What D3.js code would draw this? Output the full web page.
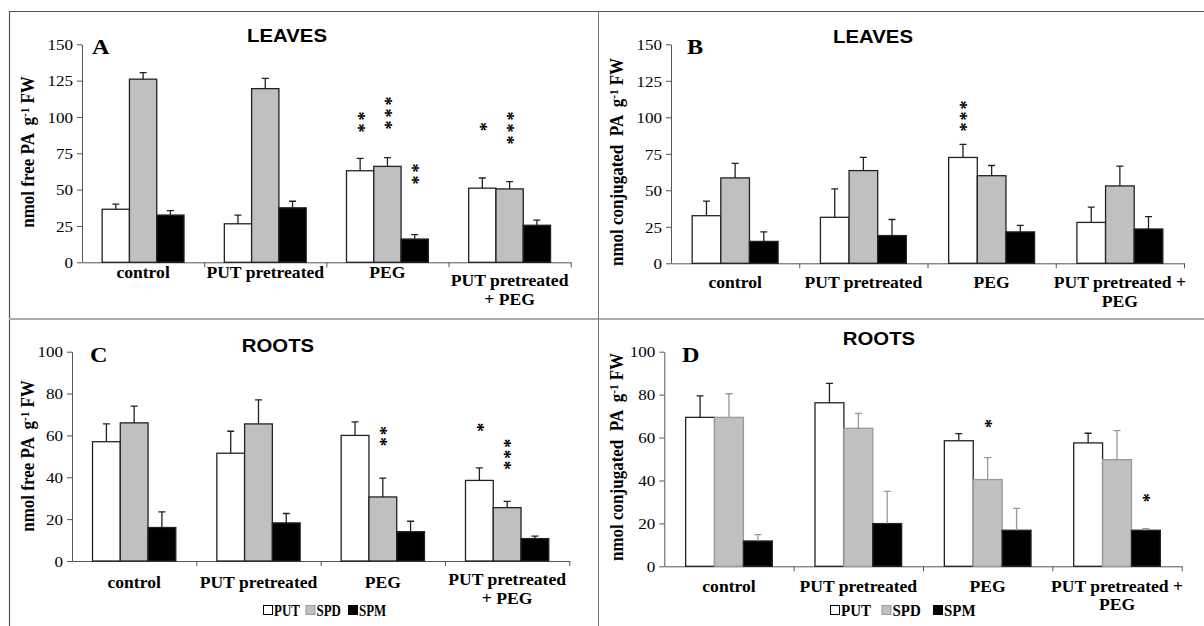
<!DOCTYPE html>
<html>
<head>
<meta charset="utf-8">
<script src="https://cdn.jsdelivr.net/npm/d3@7"></script>
<style>
  body { margin: 0; background: #fff; }
  svg text { white-space: pre; }
</style>
</head>
<body>
<svg id="chart" width="1204" height="626"></svg>
<script>
// categories and series
var groups = ["control", "PUT pretreated", "PEG", "PUT pretreated + PEG"];
var labelsAC = [["control"], ["PUT pretreated"], ["PEG"], ["PUT pretreated", "+ PEG"]];
var labelsBD = [["control"], ["PUT pretreated"], ["PEG"], ["PUT pretreated +", "PEG"]];
var series = ["PUT", "SPD", "SPM"];

// means [group][series] and SD (one-sided error bars)
var freeLeaves   = [[36.5, 126, 32.5], [26.5, 119.5, 37.5], [63, 66, 16], [51, 50.5, 25.5]];
var freeLeavesSD = [[3.5, 4.5, 3], [6, 7, 4.5], [8.5, 6, 3], [7, 5, 3.5]];
var conjLeaves   = [[32.6, 58.5, 15], [31.5, 63.5, 19], [72.5, 60, 21.5], [28, 53, 23.5]];
var conjLeavesSD = [[10, 10, 6.5], [19.5, 9, 11], [9, 7, 4.5], [10.5, 13.5, 8.5]];
var freeRoots    = [[57, 66, 16], [51.5, 65.5, 18.2], [60, 30.6, 14], [38.5, 25.5, 10.7]];
var freeRootsSD  = [[8.5, 8, 7.5], [10.5, 11.5, 4.5], [6.5, 9, 5], [6, 3, 1.2]];
var conjRoots    = [[69.4, 69.4, 11.8], [76.2, 64.3, 19.9], [58.5, 40.4, 16.8], [57.5, 49.7, 16.8]];
var conjRootsSD  = [[10, 11, 3], [9, 7, 15], [3.3, 10.2, 10.2], [4.5, 13.5, 0.8]];

// significance marks: [group, series, number of stars, value at lowest star]
var freeLeavesStars = [[2, 0, 2, 92.4], [2, 1, 3, 94.4], [2, 2, 2, 56.6], [3, 0, 1, 93.3], [3, 1, 3, 84.2]];
var conjLeavesStars = [[2, 0, 3, 93.4]];
var freeRootsStars  = [[2, 1, 2, 57], [3, 0, 1, 63.9], [3, 1, 3, 45.7]];
var conjRootsStars  = [[2, 1, 1, 66.6], [3, 2, 1, 32]];

var ticks150 = [0, 25, 50, 75, 100, 125, 150];
var ticks100 = [0, 20, 40, 60, 80, 100];

var SX = 1.1; // source picture is a bit wider than tall
var serif = "'Liberation Serif', 'Times New Roman', serif";
var sans = "'Liberation Sans', Arial, sans-serif";
var fills = ["#ffffff", "#c0c0c0", "#000000"];

var svg = d3.select("#chart");

// frame
svg.append("line").attr("x1", 9).attr("x2", 1204).attr("y1", 11.5).attr("y2", 11.5).attr("stroke", "#555").attr("stroke-width", 1.2);
svg.append("line").attr("x1", 9.5).attr("x2", 9.5).attr("y1", 11).attr("y2", 626).attr("stroke", "#555").attr("stroke-width", 1.2);
svg.append("line").attr("x1", 9).attr("x2", 1204).attr("y1", 319).attr("y2", 319).attr("stroke", "#aaa").attr("stroke-width", 2);
svg.append("line").attr("x1", 598.5).attr("x2", 598.5).attr("y1", 11).attr("y2", 626).attr("stroke", "#777").attr("stroke-width", 1);

// legend: [start x, step, squeeze]
var panels = [
  { letter: "A", title: "LEAVES", mean: freeLeaves, sd: freeLeavesSD, stars: freeLeavesStars, labels: labelsAC,
    ylab: ["nmol free PA  g", " FW"], x0: 82, x1: 570.7, yb: 262.3, yt: 44.3, max: 150, ticks: ticks150,
    titleX: 287, titleY: 41.5, letterX: 92, letterY: 54, ylabX: 34, ylabY: 152,
    labY: 278, labY2: [286, 305], starGap: 12, legend: null, sdColor: "#222", spdStroke: "#222" },
  { letter: "B", title: "LEAVES", mean: conjLeaves, sd: conjLeavesSD, stars: conjLeavesStars, labels: labelsBD,
    ylab: ["nmol conjugated  PA  g", " FW"], x0: 671, x1: 1184, yb: 263.3, yt: 44.3, max: 150, ticks: ticks150,
    titleX: 873, titleY: 43, letterX: 687, letterY: 54, ylabX: 623, ylabY: 162,
    labY: 288, labY2: [288, 306.5], starGap: 11, legend: null, sdColor: "#222", spdStroke: "#222" },
  { letter: "C", title: "ROOTS", mean: freeRoots, sd: freeRootsSD, stars: freeRootsStars, labels: labelsAC,
    ylab: ["nmol free PA  g", " FW"], x0: 72, x1: 569.3, yb: 561, yt: 351.7, max: 100, ticks: ticks100,
    titleX: 278, titleY: 351.5, letterX: 90, letterY: 361.5, ylabX: 34, ylabY: 456,
    labY: 588, labY2: [585, 604], starGap: 11, legend: [263, 42.5, 0.76], sdColor: "#222", spdStroke: "#222" },
  { letter: "D", title: "ROOTS", mean: conjRoots, sd: conjRootsSD, stars: conjRootsStars, labels: labelsBD,
    ylab: ["nmol conjugated  PA  g", " FW"], x0: 664.3, x1: 1181.7, yb: 566.3, yt: 351.7, max: 100, ticks: ticks100,
    titleX: 879, titleY: 345, letterX: 682, letterY: 361.5, ylabX: 623, ylabY: 457,
    labY: 591.5, labY2: [591.5, 610], starGap: 11, legend: [830, 51.5, 0.88], sdColor: "#999", spdStroke: "#999" }
];

panels.forEach(drawPanel);

function drawPanel(p) {
  var g = svg.append("g");

  var y = d3.scaleLinear().domain([0, p.max]).range([p.yb, p.yt]);
  var x = d3.scaleBand().domain(groups).range([p.x0, p.x1]).paddingInner(0.33).paddingOuter(0.165);
  var xs = d3.scaleBand().domain(series).range([0, x.bandwidth()]);
  var xEdge = d3.scaleLinear().domain([0, groups.length]).range([p.x0, p.x1]);

  // y axis
  var ya = g.append("g")
      .attr("transform", "translate(" + p.x0 + ",0)")
      .call(d3.axisLeft(y).tickValues(p.ticks).tickSize(5).tickSizeOuter(0).tickPadding(0));
  ya.select(".domain").attr("stroke", "#555");
  ya.selectAll(".tick line").attr("stroke", "#555");
  ya.selectAll(".tick text")
      .attr("x", 0).attr("dy", "0.34em")
      .attr("transform", "translate(-9,0) scale(" + SX + ",1)")
      .attr("font-family", serif).attr("font-size", 15.5).attr("fill", "#000");

  // x axis with ticks between groups
  var xa = g.append("g")
      .attr("transform", "translate(0," + p.yb + ")")
      .call(d3.axisBottom(xEdge).tickValues([1, 2, 3, 4]).tickFormat("").tickSize(5).tickSizeOuter(0));
  xa.select(".domain").attr("stroke", "#555");
  xa.selectAll(".tick line").attr("stroke", "#555");

  // bars
  var rows = [];
  p.mean.forEach(function(vals, gi) {
    vals.forEach(function(v, si) {
      rows.push({ group: groups[gi], s: series[si], si: si, v: v, sd: p.sd[gi][si] });
    });
  });

  var bar = g.append("g").selectAll("g")
      .data(rows)
      .enter().append("g")
      .attr("transform", function(d) { return "translate(" + (x(d.group) + xs(d.s)) + ",0)"; });

  bar.append("rect")
      .attr("x", 0)
      .attr("y", function(d) { return y(d.v); })
      .attr("width", xs.bandwidth())
      .attr("height", function(d) { return y(0) - y(d.v); })
      .attr("fill", function(d) { return fills[d.si]; })
      .attr("stroke", function(d) { return d.si === 1 ? p.spdStroke : "#222"; })
      .attr("stroke-width", 1.3);

  var w = xs.bandwidth();
  bar.append("path")
      .attr("d", function(d) {
        var top = y(d.v + d.sd);
        return "M" + (w / 2) + "," + y(d.v) + "V" + top + "M" + (w / 2 - 3.5) + "," + top + "H" + (w / 2 + 3.5);
      })
      .attr("fill", "none")
      .attr("stroke", function(d) { return d.si === 0 ? "#222" : p.sdColor; })
      .attr("stroke-width", 1.3);

  // stars: one vertical run of asterisks per mark
  var fs = 18, adv = fs * 0.5;
  g.append("g").selectAll("text")
      .data(p.stars)
      .enter().append("text")
      .attr("transform", function(s) {
        var cx = x(groups[s[0]]) + xs(series[s[1]]) + w / 2;
        var topC = y(s[3]) - (s[2] - 1) * p.starGap;
        return "translate(" + (cx - fs * 0.48) + "," + (topC - adv / 2) + ") rotate(90)";
      })
      .attr("font-family", serif).attr("font-weight", "bold").attr("font-size", fs)
      .attr("letter-spacing", p.starGap - adv)
      .text(function(s) { return "*".repeat(s[2]); });

  // category labels
  p.labels.forEach(function(lines, gi) {
    var cx = x(groups[gi]) + x.bandwidth() / 2;
    lines.forEach(function(line, li) {
      var ly = lines.length > 1 ? p.labY2[li] : p.labY;
      g.append("text")
          .attr("transform", "translate(" + cx + "," + ly + ") scale(" + SX + ",1)")
          .attr("text-anchor", "middle")
          .attr("font-family", serif).attr("font-weight", "bold").attr("font-size", 16)
          .text(line);
    });
  });

  // title and letter
  g.append("text")
      .attr("transform", "translate(" + p.titleX + "," + p.titleY + ") scale(" + SX + ",1)")
      .attr("text-anchor", "middle")
      .attr("font-family", sans).attr("font-weight", "bold").attr("font-size", 18.5)
      .text(p.title);
  g.append("text")
      .attr("transform", "translate(" + p.letterX + "," + p.letterY + ") scale(" + SX + ",1)")
      .attr("font-family", serif).attr("font-weight", "bold").attr("font-size", 22)
      .text(p.letter);

  // y label
  var yl = g.append("text")
      .attr("transform", "translate(" + p.ylabX + "," + p.ylabY + ") scale(" + SX + ",1) rotate(-90)")
      .attr("text-anchor", "middle")
      .attr("font-family", serif).attr("font-weight", "bold").attr("font-size", 17);
  yl.append("tspan").text(p.ylab[0]);
  yl.append("tspan").attr("dy", "-0.45em").attr("font-size", 11).text("-1");
  yl.append("tspan").attr("dy", "0.3em").text(p.ylab[1]);

  // legend
  if (p.legend !== null) {
    var lx = d3.scalePoint().domain(series).range([p.legend[0], p.legend[0] + 2 * p.legend[1]]);
    var lg = g.append("g").selectAll("g")
        .data(series)
        .enter().append("g")
        .attr("transform", function(d) { return "translate(" + lx(d) + ",603)"; });
    lg.append("rect")
        .attr("x", 0.5).attr("y", 2.5).attr("width", 9).attr("height", 9)
        .attr("fill", function(d, i) { return fills[i]; })
        .attr("stroke", function(d, i) { return i === 1 ? "#999" : "#000"; });
    lg.append("text")
        .attr("transform", "translate(11,12.5) scale(" + p.legend[2] + ",1)")
        .attr("font-family", serif).attr("font-weight", "bold").attr("font-size", 17)
        .text(function(d) { return d; });
  }
}
</script>
</body>
</html>
